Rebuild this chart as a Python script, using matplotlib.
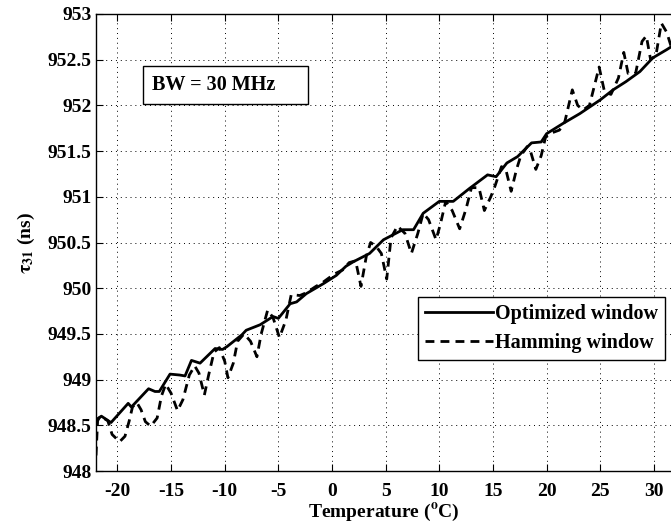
import matplotlib
matplotlib.use("Agg")
import matplotlib.pyplot as plt
from matplotlib.patches import Rectangle

# values
opt_temp = [-22.0, -21.5, -20.6, -19.0, -18.7, -17.1, -16.5, -16.1, -15.1, -14.2, -13.7,
            -13.1, -12.3, -10.9, -10.2, -9.8, -8.4, -8.0, -6.7, -5.5, -5.0, -3.9, -3.3,
            -2.4, -0.8, 0.4, 1.3, 2.0, 3.5, 4.8, 6.6, 7.6, 8.5, 10.0, 11.3, 12.8, 14.5,
            15.3, 16.3, 17.3, 18.6, 19.5, 20.0, 21.5, 23.1, 25.0, 26.2, 27.4, 28.7, 29.9,
            31.2, 31.6]
opt_tau = [948.56, 948.60, 948.53, 948.74, 948.70, 948.90, 948.87, 948.87, 949.06, 949.05,
           949.04, 949.21, 949.18, 949.34, 949.33, 949.36, 949.49, 949.54, 949.60, 949.69,
           949.67, 949.83, 949.85, 949.94, 950.05, 950.14, 950.24, 950.29, 950.38, 950.53,
           950.64, 950.64, 950.82, 950.95, 950.95, 951.09, 951.24, 951.22, 951.37, 951.44,
           951.59, 951.60, 951.69, 951.80, 951.91, 952.06, 952.17, 952.26, 952.37, 952.52,
           952.61, 952.64]

ham_temp = [-22.0, -21.85, -21.6, -20.9, -20.5, -19.8, -19.3, -18.9, -18.6, -18.2, -17.8,
            -17.4, -16.9, -16.3, -15.9, -15.5, -15.0, -14.4, -13.9, -13.3, -12.8, -12.4,
            -11.9, -11.5, -11.0, -10.5, -10.0, -9.7, -9.2, -8.8, -8.2, -7.6, -7.0, -6.6,
            -6.0, -5.5, -4.9, -4.3, -3.8, -3.0, -2.4, -1.5, -0.9, -0.2, 0.3, 1.0, 1.6,
            2.2, 2.7, 3.2, 3.6, 4.1, 4.6, 5.1, 5.5, 6.1, 6.8, 7.4, 8.0, 8.5, 9.0, 9.7,
            10.1, 10.6, 11.2, 11.9, 12.5, 13.0, 13.7, 14.2, 14.8, 15.2, 15.8, 16.2, 16.7,
            17.2, 17.6, 18.2, 18.5, 19.0, 19.5, 19.9, 20.5, 21.2, 21.7, 22.4, 22.9, 23.4,
            24.0, 24.9, 25.4, 26.0, 26.7, 27.2, 27.6, 28.3, 28.9, 29.3, 29.7, 30.2, 30.7,
            31.2, 31.6]
ham_tau = [948.17, 948.55, 948.60, 948.55, 948.40, 948.32, 948.38, 948.55, 948.70, 948.75,
           948.67, 948.54, 948.49, 948.58, 948.82, 948.95, 948.85, 948.66, 948.78, 949.05,
           949.15, 949.07, 948.83, 949.05, 949.30, 949.35, 949.20, 949.02, 949.18, 949.42,
           949.50, 949.42, 949.25, 949.50, 949.76, 949.68, 949.46, 949.65, 949.93, 949.92,
           949.95, 950.02, 950.06, 950.12, 950.16, 950.20, 950.28, 950.30, 950.02, 950.35,
           950.50, 950.46, 950.38, 950.10, 950.55, 950.68, 950.60, 950.38, 950.60, 950.82,
           950.75, 950.53, 950.70, 950.95, 950.85, 950.65, 950.87, 951.10, 951.10, 950.85,
           951.00, 951.12, 951.33, 951.30, 951.06, 951.30, 951.45, 951.55, 951.50, 951.30,
           951.45, 951.65, 951.70, 951.73, 951.82, 952.17, 952.00, 951.95, 952.00, 952.42,
           952.15, 952.12, 952.30, 952.58, 952.35, 952.35, 952.70, 952.76, 952.50, 952.55,
           952.90, 952.80, 952.65]

x_ticks = [-20, -15, -10, -5, 0, 5, 10, 15, 20, 25, 30]
y_ticks = [948, 948.5, 949, 949.5, 950, 950.5, 951, 951.5, 952, 952.5, 953]
y_tick_labels = ["948", "948.5", "949", "949.5", "950", "950.5", "951", "951.5", "952", "952.5", "953"]

plt.rcParams["font.family"] = ["Liberation Serif", "DejaVu Serif"]
plt.rcParams["font.weight"] = "bold"
plt.rcParams["axes.labelweight"] = "bold"
plt.rcParams["axes.unicode_minus"] = False
plt.rcParams["mathtext.fontset"] = "stix"
plt.rcParams["mathtext.default"] = "bf"

fig = plt.figure(figsize=(6.71, 5.27), dpi=100)
ax = fig.add_axes([96 / 671, 56 / 527, 575 / 671, 457 / 527])

ax.plot(opt_temp, opt_tau, color="black", lw=2.0, label="Optimized window")
ax.plot(ham_temp, ham_tau, color="black", lw=2.0, dashes=(3.2, 2.2), label="Hamming window")

ax.set_xlim(-22, 31.6)
ax.set_ylim(948, 953)
ax.set_xticks(x_ticks)
ax.set_yticks(y_ticks)
ax.set_yticklabels(y_tick_labels)
ax.tick_params(direction="in", top=True, right=False, labelsize=14, width=0.8, length=5)
ax.tick_params(axis="x", pad=9)
ax.tick_params(axis="y", pad=3)
ax.spines["right"].set_visible(False)
for s in ["left", "bottom", "top"]:
    ax.spines[s].set_linewidth(1.0)
ax.grid(True, linestyle=(0, (1, 4)), color="black", linewidth=0.7)

ax.set_xlabel(r"Temperature ($^{\mathrm{o}}$C)", fontsize=14, labelpad=1)
ax.set_ylabel(r"$\tau_{31}$ (ns)", fontsize=14, labelpad=8)

ax.add_patch(Rectangle((0.081, 0.803), 0.287, 0.083, transform=ax.transAxes,
                       facecolor="white", edgecolor="black", lw=1.0, zorder=5))
ax.text(0.097, 0.845, "BW = 30 MHz", transform=ax.transAxes, fontsize=14.5,
        va="center", ha="left", zorder=6)

leg = ax.legend(loc="lower right", bbox_to_anchor=(0.99, 0.243), fontsize=14.5,
                frameon=True, fancybox=False, edgecolor="black", framealpha=1,
                handlelength=3.4, handletextpad=0.1, borderpad=0.35, labelspacing=0.45,
                borderaxespad=0)
leg.get_frame().set_linewidth(1.0)

fig.savefig("out.png", dpi=100)
